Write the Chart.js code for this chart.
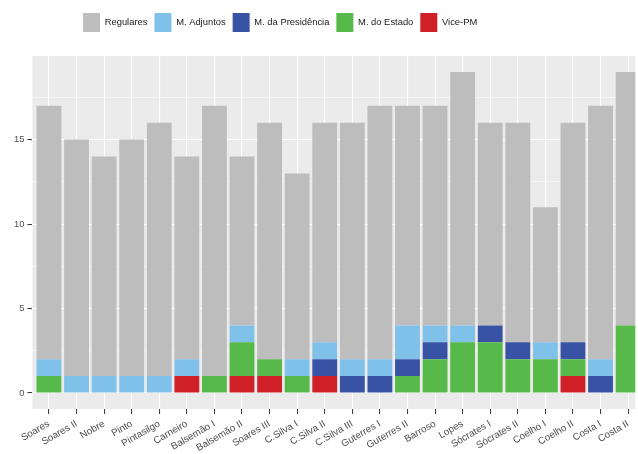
<!DOCTYPE html>
<html>
<head>
<meta charset="utf-8">
<script src="https://cdn.jsdelivr.net/npm/chart.js@4"></script>
<style>
  html, body { margin: 0; padding: 0; background: #fff; overflow: hidden; }
  #wrap { width: 638px; height: 454px; }
</style>
</head>
<body>
<div id="wrap"><canvas id="myChart"></canvas></div>
<script>
const cats = ['Soares', 'Soares II', 'Nobre', 'Pinto', 'Pintasilgo', 'Carneiro', 'Balsemão I', 'Balsemão II',
  'Soares III', 'C.Silva I', 'C.Silva II', 'C.Silva III', 'Guterres I', 'Guterres II', 'Barroso', 'Lopes',
  'Sócrates I', 'Sócrates II', 'Coelho I', 'Coelho II', 'Costa I', 'Costa II'];

const regulares   = [15, 14, 13, 14, 15, 12, 16, 10, 14, 11, 13, 14, 15, 13, 13, 15, 12, 13, 8, 13, 15, 15];
const adjuntos    = [1, 1, 1, 1, 1, 1, 0, 1, 0, 1, 1, 1, 1, 2, 1, 1, 0, 0, 1, 0, 1, 0];
const presidencia = [0, 0, 0, 0, 0, 0, 0, 0, 0, 0, 1, 1, 1, 1, 1, 0, 1, 1, 0, 1, 1, 0];
const estado      = [1, 0, 0, 0, 0, 0, 1, 2, 1, 1, 0, 0, 0, 1, 2, 3, 3, 2, 2, 1, 0, 4];
const vicePM      = [0, 0, 0, 0, 0, 1, 0, 1, 1, 0, 1, 0, 0, 0, 0, 0, 0, 0, 0, 1, 0, 0];

const yTicks = [0, 2.5, 5, 7.5, 10, 12.5, 15, 17.5];

function pts(arr) {
  return arr.map((v, i) => ({ x: i, y: v }));
}

// grey ggplot panel + legend placement
const panelBg = {
  id: 'panelBg',
  beforeLayout(chart) {
    const lg = chart.legend;
    if (lg && !lg._patched) {
      const fit = lg.fit.bind(lg);
      lg.fit = function () { fit(); this.height = 50; };
      lg._patched = true;
    }
  },
  afterLayout(chart) {
    if (chart.legend) chart.legend.left = 76;
  },
  beforeDraw(chart) {
    const a = chart.chartArea;
    const ctx = chart.ctx;
    ctx.save();
    ctx.fillStyle = '#ebebeb';
    ctx.fillRect(a.left, a.top, a.right - a.left, a.bottom - a.top);
    ctx.restore();
  }
};

const data = {
  datasets: [
    { label: 'Vice-PM', data: pts(vicePM), backgroundColor: '#cf2027' },
    { label: 'M. do Estado', data: pts(estado), backgroundColor: '#57b94a' },
    { label: 'M. da Presidência', data: pts(presidencia), backgroundColor: '#3953a4' },
    { label: 'M. Adjuntos', data: pts(adjuntos), backgroundColor: '#80c1ea' },
    { label: 'Regulares', data: pts(regulares), backgroundColor: '#bebdbe' },
  ]
};

const font = { family: 'Liberation Sans', size: 9.4 };

const config = {
  type: 'bar',
  data: data,
  plugins: [panelBg],
  options: {
    responsive: true,
    maintainAspectRatio: false,
    animation: false,
    barPercentage: 0.9,
    categoryPercentage: 1,
    layout: { padding: { top: 6, left: 0, right: 0, bottom: 0 } },
    plugins: {
      tooltip: { enabled: false },
      legend: {
        position: 'top',
        align: 'start',
        reverse: true,
        labels: {
          boxWidth: 17,
          boxHeight: 19,
          padding: 7,
          color: '#1a1a1a',
          font: font
        }
      }
    },
    scales: {
      x: {
        type: 'linear',
        stacked: true,
        offset: false,
        min: -0.6,
        max: 21.26,
        afterBuildTicks: (axis) => { axis.ticks = cats.map((c, i) => ({ value: i })); },
        afterFit: (axis) => { axis.height = 45; },
        ticks: {
          autoSkip: false,
          maxRotation: 30,
          minRotation: 30,
          padding: 4,
          color: '#4d4d4d',
          font: { family: 'Liberation Sans', size: 9.8 },
          callback: (v) => cats[v]
        },
        grid: {
          offset: false,
          color: '#ffffff',
          lineWidth: 1.1,
          tickLength: 5,
          tickColor: '#333333',
          tickWidth: 1
        },
        border: { display: false }
      },
      y: {
        stacked: true,
        min: -0.95,
        max: 19.95,
        afterBuildTicks: (axis) => { axis.ticks = yTicks.map(v => ({ value: v })); },
        afterFit: (axis) => { axis.width = 32.4; },
        ticks: {
          padding: 3,
          color: '#4d4d4d',
          font: font,
          callback: (v) => (v % 5 === 0 ? String(v) : '')
        },
        grid: {
          color: '#ffffff',
          lineWidth: (ctx) => (ctx.tick && ctx.tick.value % 5 === 0 ? 1.1 : 0.5),
          tickLength: 5,
          tickColor: (ctx) => (ctx.tick && ctx.tick.value % 5 === 0 ? '#333333' : 'rgba(0,0,0,0)'),
          tickWidth: 1
        },
        border: { display: false }
      }
    }
  }
};

const myChart = new Chart(document.getElementById('myChart'), config);
</script>
</body>
</html>
